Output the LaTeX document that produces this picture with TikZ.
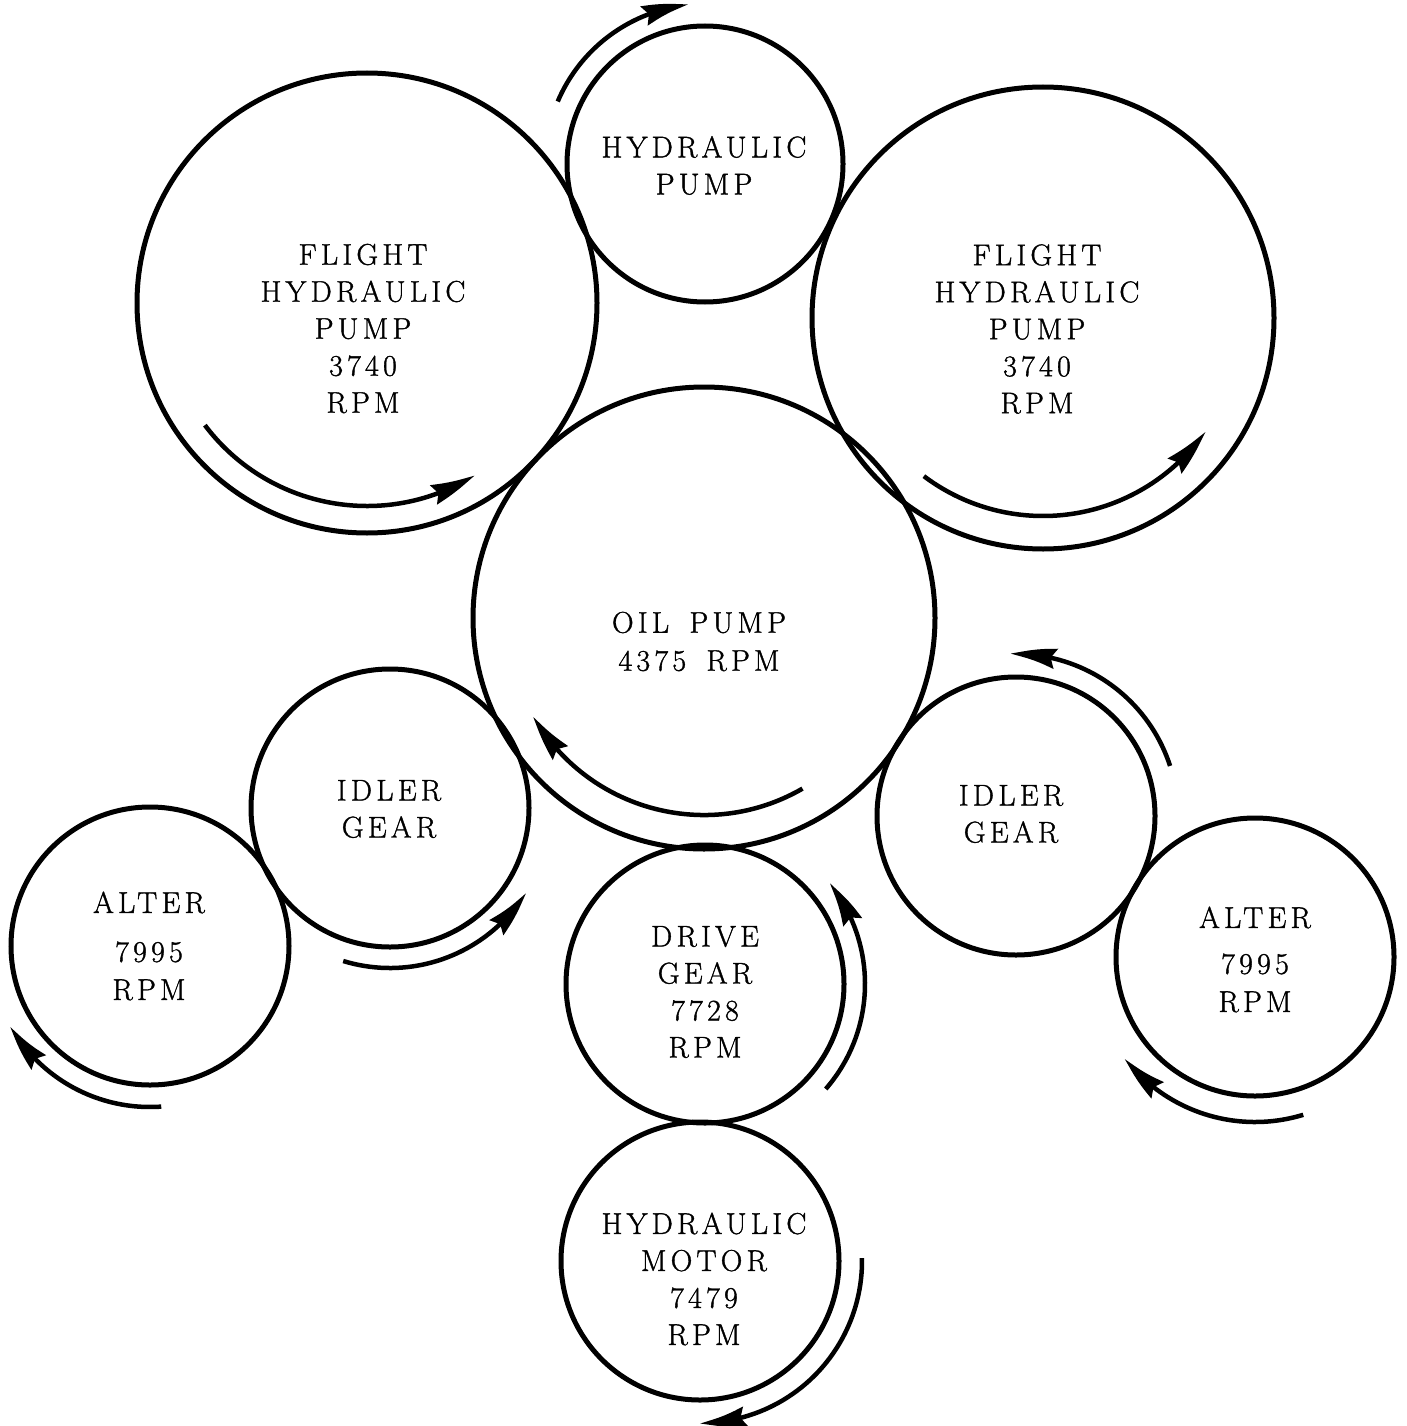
\documentclass[tikz,border=0pt]{standalone}
\usepackage{fontspec}
\setmainfont{Latin Modern Roman}[LetterSpace=14,FakeBold=1.2]
\usetikzlibrary{arrows.meta,bending}
\begin{document}
\begin{tikzpicture}[x=1pt,y=1pt,
  gear/.style={circle, draw, line width=5pt, inner sep=0pt, outer sep=0pt},
  lbl/.style={align=center, font=\fontsize{30}{37}\selectfont, inner sep=0pt},
  rot/.style={line width=4.5pt, -{Stealth[length=46pt,width=20pt,inset=5pt,bend]}}]
\useasboundingbox (0,0) rectangle (1407,-1426);
\clip (0,0) rectangle (1407,-1426);
% circles
\node[gear, minimum size=276pt] (hp)   at (705,-164)  {};
\node[gear, minimum size=460pt] (lfp)  at (367,-303)  {};
\node[gear, minimum size=462pt] (rfp)  at (1043,-318) {};
\node[gear, minimum size=462pt] (oil)  at (704,-618)  {};
\node[gear, minimum size=278pt] (lidl) at (390,-808)  {};
\node[gear, minimum size=278pt] (lalt) at (150,-946)  {};
\node[gear, minimum size=278pt] (ridl) at (1016,-816) {};
\node[gear, minimum size=278pt] (ralt) at (1255,-957) {};
\node[gear, minimum size=278pt] (drv)  at (705,-984)  {};
\node[gear, minimum size=278pt] (mot)  at (700,-1261) {};
% labels
\node[lbl] (hpT)   at (704,-165.5) {HYDRAULIC\\PUMP};
\node[lbl] (lfpT)  at (363,-328.5) {FLIGHT\\HYDRAULIC\\PUMP\\3740\\RPM};
\node[lbl] (rfpT)  at (1037,-329)  {FLIGHT\\HYDRAULIC\\PUMP\\3740\\RPM};
\node[lbl] (oilT)  at (699,-641.5) {OIL\hspace{7pt} PUMP\\[1pt]4375\hspace{7pt} RPM};
\node[lbl] (lidlT) at (389,-809)   {IDLER\\GEAR};
\node[lbl] (laltT) at (149,-946)   {ALTER\\[12pt]7995\\[1pt]RPM};
\node[lbl] (ridlT) at (1011,-814)  {IDLER\\GEAR};
\node[lbl] (raltT) at (1255,-959.5){ALTER\\[9pt]7995\\[1pt]RPM};
\node[lbl] (drvT)  at (705,-992)   {DRIVE\\GEAR\\7728\\RPM};
\node[lbl] (motT)  at (704,-1279)  {HYDRAULIC\\MOTOR\\7479\\RPM};
% rotation arrows
\draw[rot] ([shift={(157:160)}]hp.center)   arc[start angle=157, end angle=96,  radius=160];
\draw[rot] ([shift={(217:203)}]lfp.center)  arc[start angle=217, end angle=302, radius=203];
\draw[rot] ([shift={(233:198)}]rfp.center)  arc[start angle=233, end angle=325, radius=198];
\draw[rot] ([shift={(-60:197)}]oil.center)  arc[start angle=-60, end angle=-150, radius=197];
\draw[rot] ([shift={(-107:160)}]lidl.center) arc[start angle=-107, end angle=-32, radius=160];
\draw[rot] ([shift={(-86:161)}]lalt.center) arc[start angle=-86, end angle=-150, radius=161];
\draw[rot] ([shift={(18:162)}]ridl.center)  arc[start angle=18, end angle=92, radius=162];
\draw[rot] ([shift={(-73:165)}]ralt.center) arc[start angle=-73, end angle=-142, radius=165];
\draw[rot] ([shift={(-41:160)}]drv.center)  arc[start angle=-41, end angle=39, radius=160];
\draw[rot] ([shift={(1:162)}]mot.center)    arc[start angle=1, end angle=-90, radius=162];
\end{tikzpicture}
\end{document}
